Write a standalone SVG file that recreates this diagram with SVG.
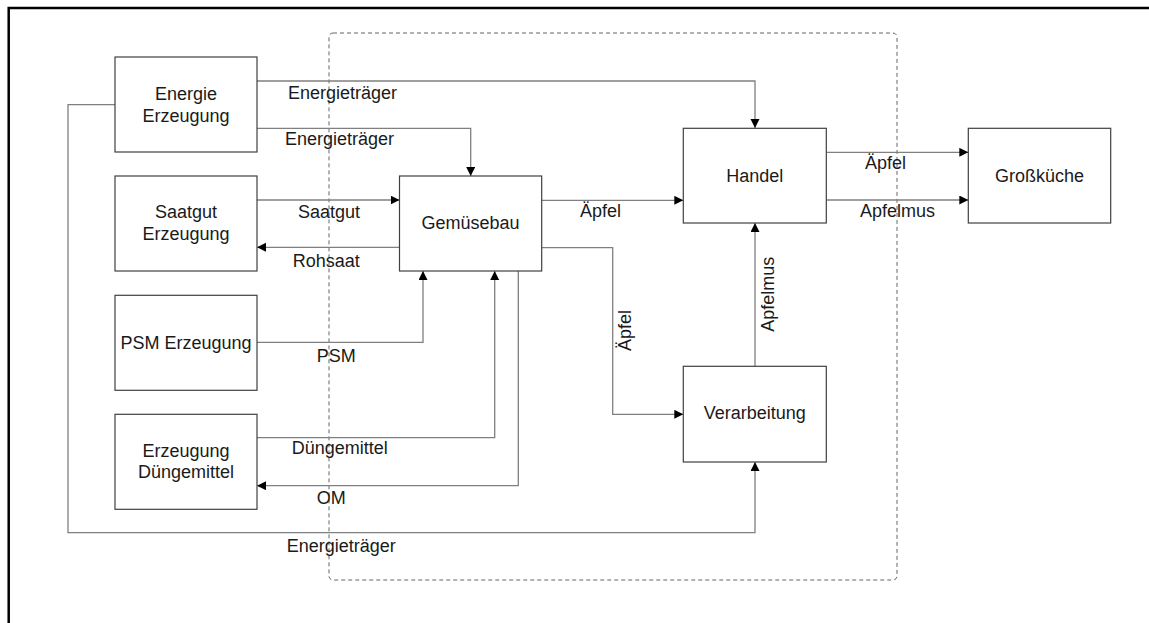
<svg xmlns="http://www.w3.org/2000/svg" width="1149" height="623" viewBox="0 0 1149 623">
<defs>
<marker id="arr" markerUnits="userSpaceOnUse" markerWidth="10" markerHeight="10" refX="9" refY="4.5" orient="auto">
<path d="M0,0 L9,4.5 L0,9 z" fill="#000"/>
</marker>
<style>
.box{fill:#fff;stroke:#404040;stroke-width:1.2}
.ln{fill:none;stroke:#808080;stroke-width:1.3}
.t{font-family:"Liberation Sans",Arial,sans-serif;font-size:18px;fill:#1a1a1a}
.c{text-anchor:middle}
</style>
</defs>
<rect width="1149" height="623" fill="#fff"/>
<path d="M8.7,623 V8 H1149" fill="none" stroke="#000" stroke-width="2.5"/>
<rect id="system" x="329" y="33" width="568" height="547" rx="4" fill="none" stroke="#666" stroke-width="1" stroke-dasharray="4,3"/>
<g id="connectors">
<path class="ln" d="M257,81 H755 V128" marker-end="url(#arr)"/>
<path class="ln" d="M257,128.3 H470.7 V176" marker-end="url(#arr)"/>
<path class="ln" d="M257,200 H399.5" marker-end="url(#arr)"/>
<path class="ln" d="M399.5,247.3 H257" marker-end="url(#arr)"/>
<path class="ln" d="M257,342.3 H423 V271" marker-end="url(#arr)"/>
<path class="ln" d="M257,437.7 H494.7 V271" marker-end="url(#arr)"/>
<path class="ln" d="M518.3,271 V485.7 H257" marker-end="url(#arr)"/>
<path class="ln" d="M115,104.7 H68 V532.7 H755 V462" marker-end="url(#arr)"/>
<path class="ln" d="M541.7,200.3 H683.3" marker-end="url(#arr)"/>
<path class="ln" d="M541.7,247.7 H612.7 V414.3 H683.3" marker-end="url(#arr)"/>
<path class="ln" d="M755,366.3 V223" marker-end="url(#arr)"/>
<path class="ln" d="M826.3,152.3 H968.3" marker-end="url(#arr)"/>
<path class="ln" d="M826.3,200 H968.3" marker-end="url(#arr)"/>
<text class="t" x="288" y="99.3">Energieträger</text>
<text class="t" x="285" y="145">Energieträger</text>
<text class="t" x="298" y="218.3">Saatgut</text>
<text class="t" x="292.7" y="266.7">Rohsaat</text>
<text class="t" x="316.7" y="362.3">PSM</text>
<text class="t" x="291.7" y="454.3">Düngemittel</text>
<text class="t" x="316.7" y="504.3">OM</text>
<text class="t" x="286.7" y="551.7">Energieträger</text>
<text class="t" x="580" y="216.7">Äpfel</text>
<text class="t" transform="translate(631,351) rotate(-90)">Äpfel</text>
<text class="t" transform="translate(774.3,331.7) rotate(-90)">Apfelmus</text>
<text class="t" x="865" y="169.3">Äpfel</text>
<text class="t" x="860" y="216.7">Apfelmus</text>
</g>
<g id="energie">
<rect class="box" x="115" y="57" width="142" height="95"/>
<text class="t c" x="186" y="100">Energie</text>
<text class="t c" x="186" y="121.7">Erzeugung</text>
</g>
<g id="saatgut">
<rect class="box" x="115" y="176" width="142" height="95"/>
<text class="t c" x="186" y="218.3">Saatgut</text>
<text class="t c" x="186" y="240">Erzeugung</text>
</g>
<g id="psm">
<rect class="box" x="115" y="295.3" width="142" height="95"/>
<text class="t c" x="186" y="349">PSM Erzeugung</text>
</g>
<g id="duenger">
<rect class="box" x="115" y="414.3" width="142" height="95"/>
<text class="t c" x="186" y="456.7">Erzeugung</text>
<text class="t c" x="186" y="477.7">Düngemittel</text>
</g>
<g id="gemuesebau">
<rect class="box" x="399.5" y="176" width="142.2" height="95"/>
<text class="t c" x="470.5" y="229.3">Gemüsebau</text>
</g>
<g id="handel">
<rect class="box" x="683.3" y="128.3" width="143" height="94.7"/>
<text class="t c" x="754.8" y="181.7">Handel</text>
</g>
<g id="grosskueche">
<rect class="box" x="968.3" y="128.3" width="142.4" height="94.7"/>
<text class="t c" x="1039.5" y="181.7">Großküche</text>
</g>
<g id="verarbeitung">
<rect class="box" x="683.3" y="366.3" width="143" height="95.7"/>
<text class="t c" x="754.8" y="419.3">Verarbeitung</text>
</g>
</svg>
